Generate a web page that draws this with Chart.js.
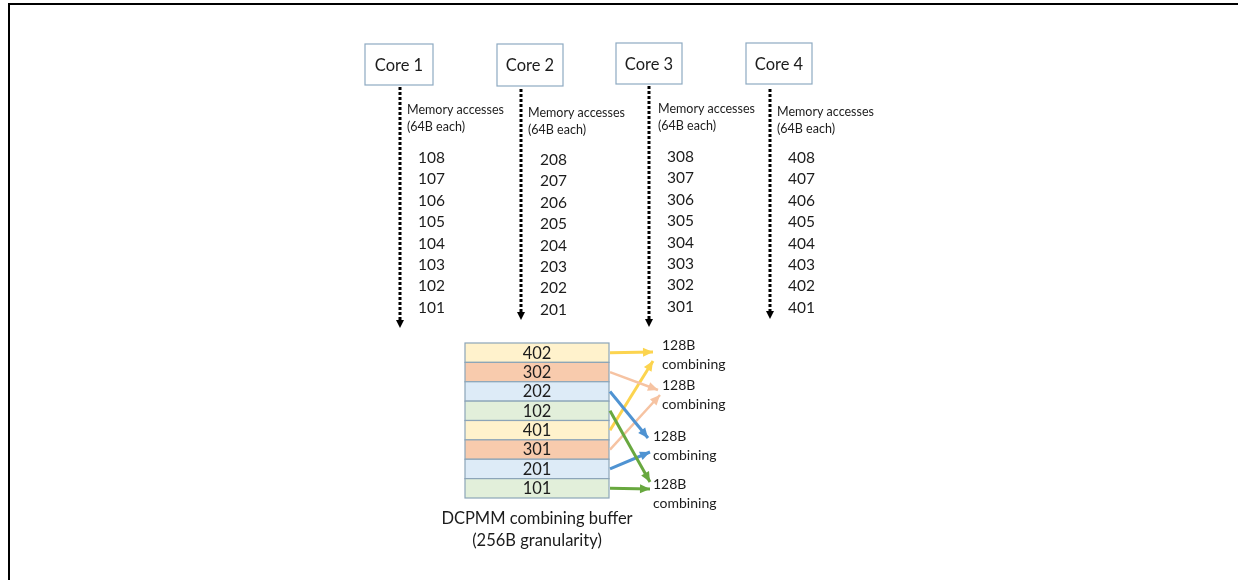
<!DOCTYPE html>
<html>
<head>
<meta charset="utf-8">
<script src="https://cdn.jsdelivr.net/npm/chart.js@4.4.1/dist/chart.umd.min.js"></script>
<style>
html, body { margin: 0; padding: 0; background: #fff; }
#wrap { width: 1238px; height: 580px; }
</style>
</head>
<body>
<div id="wrap"><canvas id="diagram" width="1238" height="580"></canvas></div>
<script>
// --- data ---
const cores = ['Core 1', 'Core 2', 'Core 3', 'Core 4'];
const accessCaption = ['Memory accesses', '(64B each)'];
const core1Accesses = ['108', '107', '106', '105', '104', '103', '102', '101'];
const core2Accesses = ['208', '207', '206', '205', '204', '203', '202', '201'];
const core3Accesses = ['308', '307', '306', '305', '304', '303', '302', '301'];
const core4Accesses = ['408', '407', '406', '405', '404', '403', '402', '401'];
const bufferSlots = ['402', '302', '202', '102', '401', '301', '201', '101'];
const slotTarget = [0, 1, 2, 3, 0, 1, 2, 3];   // which "128B combining" each slot goes to
const combineCaption = ['128B', 'combining'];
const bufferCaption = ['DCPMM combining buffer', '(256B granularity)'];

const accessLists = [core1Accesses, core2Accesses, core3Accesses, core4Accesses];

// --- layout (diagram units = pixels of the 1238x580 page) ---
const coreBoxes = [
    { x1: 365, x2: 433, y1: 44, y2: 85 },
    { x1: 497, x2: 563, y1: 44, y2: 86 },
    { x1: 616, x2: 682, y1: 43, y2: 84 },
    { x1: 746, x2: 812, y1: 43, y2: 84 }
];
const flowX = [400, 521, 649, 770];
const flowTop = [87, 89, 86, 89];
const flowTip = [328, 320, 327, 319];
const captionPos = [[407, 110], [528, 113], [658, 109], [777, 112]];
const listPos = [[418, 158], [540, 160], [667, 157], [788, 158]];
const listStep = 21.4;

const buffer = { x1: 465, x2: 609, y1: 343, y2: 498 };
const combinePos = [[662, 345], [662, 385], [653, 436], [653, 484]];
const slotEnds = [[653, 352], [658, 390], [648, 438], [650, 482], [653, 361], [660, 395], [650, 452], [650, 489]];

// colours per core (1..4)
const rowFill = ['#e2efda', '#ddebf7', '#f8cbad', '#fff2cc'];
const arrowColor = ['#68a83f', '#4f93d2', '#f6c3a2', '#fcd44f'];
const textColor = '#1c1c1c';
const font = 'Lato, "Open Sans", sans-serif';

const rowH = (buffer.y2 - buffer.y1) / bufferSlots.length;

// datasets: dotted core flows + buffer arrows
const datasets = [];
cores.forEach(function (c, i) {
    datasets.push({
        data: [{ x: flowX[i], y: flowTop[i] }, { x: flowX[i], y: flowTip[i] - 6 }],
        showLine: true, pointRadius: 0, borderColor: '#000', borderWidth: 3,
        borderDash: [3, 2], borderCapStyle: 'butt',
        arrowTip: { x: flowX[i], y: flowTip[i] }, arrowColor: '#000', headLen: 8, headW: 8
    });
});
bufferSlots.forEach(function (s, i) {
    let core = parseInt(s.charAt(0)) - 1;
    let y0 = buffer.y1 + rowH * (i + 0.5);
    let end = slotEnds[i];
    datasets.push({
        data: [{ x: buffer.x2 + 1, y: y0 }, { x: end[0], y: end[1] }],
        showLine: true, pointRadius: 0, borderColor: arrowColor[core], borderWidth: core == 2 ? 2.5 : 3,
        arrowTip: { x: end[0], y: end[1] }, arrowColor: arrowColor[core], headLen: 10, headW: 9
    });
});

const diagramPlugin = {
    id: 'diagram',
    beforeDatasetsDraw: function (chart) {
        const ctx = chart.ctx;
        const xs = chart.scales.x, ys = chart.scales.y;
        const px = v => xs.getPixelForValue(v);
        const py = v => ys.getPixelForValue(v);
        ctx.save();
        // page frame
        ctx.strokeStyle = '#000';
        ctx.lineWidth = 2;
        ctx.beginPath();
        ctx.moveTo(px(9), py(580));
        ctx.lineTo(px(9), py(4));
        ctx.lineTo(px(1238), py(4));
        ctx.stroke();

        // core boxes
        ctx.textBaseline = 'middle';
        cores.forEach(function (c, i) {
            let b = coreBoxes[i];
            ctx.strokeStyle = '#8eaac2';
            ctx.lineWidth = 1.2;
            ctx.strokeRect(px(b.x1), py(b.y1), px(b.x2) - px(b.x1), py(b.y2) - py(b.y1));
            ctx.fillStyle = textColor;
            ctx.font = '16.5px ' + font;
            ctx.textAlign = 'center';
            ctx.fillText(c, px((b.x1 + b.x2) / 2), py((b.y1 + b.y2) / 2 + 1));
            // caption
            ctx.textAlign = 'left';
            ctx.font = '12.5px ' + font;
            accessCaption.forEach(function (t, k) {
                ctx.fillText(t, px(captionPos[i][0]), py(captionPos[i][1] + k * 17));
            });
            // access list
            ctx.font = '15.5px ' + font;
            accessLists[i].forEach(function (t, k) {
                ctx.fillText(t, px(listPos[i][0]), py(listPos[i][1] + k * listStep));
            });
        });

        // buffer rows
        bufferSlots.forEach(function (s, i) {
            let core = parseInt(s.charAt(0)) - 1;
            let y1 = buffer.y1 + rowH * i;
            ctx.fillStyle = rowFill[core];
            ctx.fillRect(px(buffer.x1), py(y1), px(buffer.x2) - px(buffer.x1), py(y1 + rowH) - py(y1));
            ctx.strokeStyle = '#8ca5b8';
            ctx.lineWidth = 1.2;
            ctx.strokeRect(px(buffer.x1), py(y1), px(buffer.x2) - px(buffer.x1), py(y1 + rowH) - py(y1));
            ctx.fillStyle = textColor;
            ctx.font = '16.5px ' + font;
            ctx.textAlign = 'center';
            ctx.fillText(s, px((buffer.x1 + buffer.x2) / 2), py(y1 + rowH / 2 + 0.5));
        });

        // buffer caption
        ctx.font = '16.5px ' + font;
        ctx.textAlign = 'center';
        bufferCaption.forEach(function (t, k) {
            ctx.fillText(t, px((buffer.x1 + buffer.x2) / 2), py(519 + k * 22));
        });

        // combining labels
        ctx.font = '14px ' + font;
        ctx.textAlign = 'left';
        combinePos.forEach(function (p) {
            combineCaption.forEach(function (t, k) {
                ctx.fillText(t, px(p[0]), py(p[1] + k * 19));
            });
        });
        ctx.restore();
    },
    afterDatasetsDraw: function (chart) {
        const ctx = chart.ctx;
        const xs = chart.scales.x, ys = chart.scales.y;
        chart.data.datasets.forEach(function (ds) {
            if (!ds.arrowTip) return;
            let a = ds.data[0], tip = ds.arrowTip;
            let x0 = xs.getPixelForValue(a.x), y0 = ys.getPixelForValue(a.y);
            let x1 = xs.getPixelForValue(tip.x), y1 = ys.getPixelForValue(tip.y);
            let ang = Math.atan2(y1 - y0, x1 - x0);
            ctx.save();
            ctx.translate(x1, y1);
            ctx.rotate(ang);
            ctx.fillStyle = ds.arrowColor;
            ctx.beginPath();
            ctx.moveTo(0, 0);
            ctx.lineTo(-ds.headLen, -ds.headW / 2);
            ctx.lineTo(-ds.headLen, ds.headW / 2);
            ctx.closePath();
            ctx.fill();
            ctx.restore();
        });
    }
};

new Chart(document.getElementById('diagram'), {
    type: 'scatter',
    data: { datasets: datasets },
    options: {
        responsive: false,
        animation: false,
        devicePixelRatio: 1,
        layout: { padding: 0 },
        plugins: { legend: { display: false }, tooltip: { enabled: false } },
        scales: {
            x: { type: 'linear', min: 0, max: 1238, display: false },
            y: { type: 'linear', min: 0, max: 580, reverse: true, display: false }
        }
    },
    plugins: [diagramPlugin]
});
</script>
</body>
</html>
